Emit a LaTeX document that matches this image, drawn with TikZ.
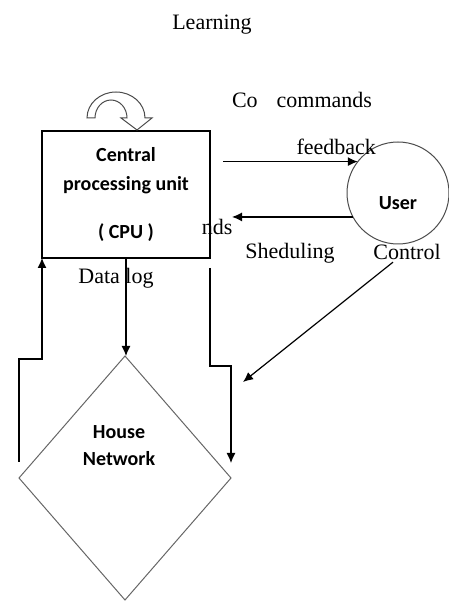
\documentclass[tikz,border=0pt]{standalone}
\usepackage{fontspec}
\setmainfont{Liberation Serif}
\newfontfamily\calibri{Carlito}
\usetikzlibrary{shapes.geometric,arrows.meta,positioning}

\begin{document}
\begin{tikzpicture}[
  x=0.5pt, y=0.5pt,
  font=\fontsize{11}{13}\selectfont,
  boxtxt/.style = {font=\calibri\bfseries\fontsize{10}{14.5}\selectfont, align=center},
  proc/.style   = {rectangle, draw=black, line width=.6pt, fill=white, outer sep=0pt,
                   boxtxt, minimum width=84pt, minimum height=63.5pt},
  usr/.style    = {circle, draw=black!70, line width=.5pt, fill=white, outer sep=0pt,
                   inner sep=0pt, minimum size=51pt, boxtxt},
  net/.style    = {diamond, draw=black!60, line width=.5pt, outer sep=0pt, inner sep=0pt,
                   minimum width=106pt, minimum height=122pt},
  arr/.style    = {-{Latex[length=5pt,width=4.5pt]}, draw=black, line width=.6pt},
  lbl/.style    = {inner sep=1pt},
]
\useasboundingbox (0,0) rectangle (449,601);

% -- nodes ---------------------------------------------------------------
\node[lbl] (learn) at (212,576) {Learning};
\node[proc] (cpu) at (126,406.5) {Central\\processing unit\\[9.5pt]( CPU )};
\node[usr, label={[boxtxt, yshift=-5pt]center:User}] (user) at (398,408) {};
\node[net] (house) at (125,123) {};
\node[boxtxt, font=\calibri\bfseries\fontsize{10}{13.5}\selectfont]
     (housetxt) at (119,155.5) {House\\Network};

\node[lbl] (cocmd) at (302,501) {Co\hspace{9.5pt}commands};
\node[lbl] (shed) at (290,348) {Sheduling};
\node[lbl] (ctrl) at (407,349) {Control};
\node[lbl] (dlog) at (116,323) {Data log};
\coordinate (ctrlend) at (243,219);

% -- learning loop above the cpu -----------------------------------------
\draw[draw=black!70, line width=.5pt, fill=white]
  (87,483) arc[start angle=180, end angle=0, x radius=29, y radius=26]
  -- (152,483) -- (137,471) -- (121,483) -- (127,483)
  arc[start angle=0, end angle=180, x radius=16, y radius=18] -- cycle;

% -- connectors ----------------------------------------------------------
\draw[arr] ([xshift=6.5pt]cpu.east |- user.142) -- node[lbl, above=2pt, pos=.84] {feedback} (user.142);
\draw[arr] (user.208) -- ([xshift=11pt]cpu.east |- user.208)
          node[lbl, at end, anchor=north east, xshift=1.5pt] {nds};
\draw[arr] ([xshift=-7pt]ctrl.south) -- (ctrlend);
\draw[arr] (cpu.south) -- (cpu.south |- house.north);
\draw[arr] ([yshift=8pt]house.west) -- ++(0,103) -| (cpu.south west);
\draw[arr] ([yshift=-5pt]cpu.south east) -- ++(0,-98) -| ([yshift=7.5pt]house.east);
\end{tikzpicture}
\end{document}
